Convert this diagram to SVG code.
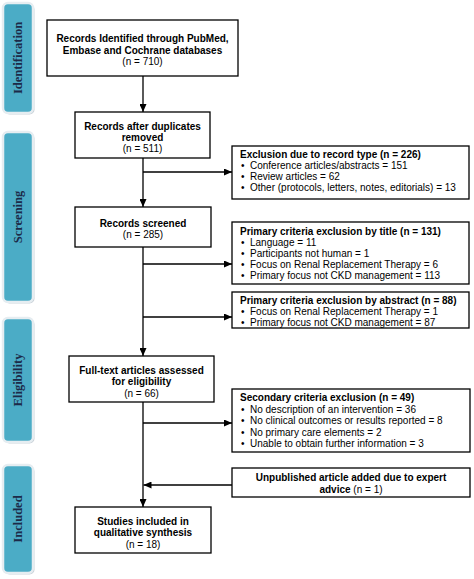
<svg xmlns="http://www.w3.org/2000/svg" width="474" height="579" viewBox="0 0 474 579">
<style>
.bg{fill:#ffffff}
.phase-sh{fill:#c9d1d8}
.phase{fill:#4bacc6;stroke:#e6edf1;stroke-width:2.5}
.ptxt{font-family:"Liberation Serif","Times New Roman",serif;font-weight:bold;font-size:12.5px;fill:#1c2a48;text-anchor:middle}
.box{fill:#ffffff;stroke:#000000;stroke-width:1.3}
.t{font-family:"Liberation Sans",Arial,sans-serif;font-size:10px;fill:#000000}
.b{font-weight:bold}
.c{text-anchor:middle}
.conn{stroke:#000000;stroke-width:1.3;fill:none}
</style>
<defs>
<marker id="ah" markerUnits="userSpaceOnUse" markerWidth="8" markerHeight="7" refX="8" refY="3.5" orient="auto">
<path d="M0,0 L8,3.5 L0,7 z" fill="#000000"/>
</marker>
</defs>
<rect class="bg" x="0" y="0" width="474" height="579"/>

<g id="phase-identification">
<rect class="phase-sh" x="4.5" y="4.5" width="30" height="110" rx="5"/>
<rect class="phase" x="3" y="3" width="30" height="110" rx="5"/>
<text class="ptxt" transform="translate(22,58) rotate(-90)">Identification</text>
</g>
<g id="phase-screening">
<rect class="phase-sh" x="4.5" y="133.5" width="30" height="170" rx="5"/>
<rect class="phase" x="3" y="132" width="30" height="170" rx="5"/>
<text class="ptxt" transform="translate(22,217) rotate(-90)">Screening</text>
</g>
<g id="phase-eligibility">
<rect class="phase-sh" x="4.5" y="319.5" width="30" height="124" rx="5"/>
<rect class="phase" x="3" y="318" width="30" height="124" rx="5"/>
<text class="ptxt" transform="translate(22,380) rotate(-90)">Eligibility</text>
</g>
<g id="phase-included">
<rect class="phase-sh" x="4.5" y="466.5" width="30" height="108" rx="5"/>
<rect class="phase" x="3" y="465" width="30" height="108" rx="5"/>
<text class="ptxt" transform="translate(22,519) rotate(-90)">Included</text>
</g>

<g id="connectors">
<line class="conn" x1="143" y1="76" x2="143" y2="112" marker-end="url(#ah)"/>
<line class="conn" x1="143" y1="158" x2="143" y2="207" marker-end="url(#ah)"/>
<line class="conn" x1="143" y1="247" x2="143" y2="356" marker-end="url(#ah)"/>
<line class="conn" x1="143" y1="402" x2="143" y2="507" marker-end="url(#ah)"/>
<line class="conn" x1="143" y1="172" x2="232" y2="172" marker-end="url(#ah)"/>
<line class="conn" x1="143" y1="264" x2="232" y2="264" marker-end="url(#ah)"/>
<line class="conn" x1="143" y1="317" x2="232" y2="317" marker-end="url(#ah)"/>
<line class="conn" x1="143" y1="423" x2="232" y2="423" marker-end="url(#ah)"/>
<line class="conn" x1="232" y1="485" x2="143.5" y2="485" marker-end="url(#ah)"/>
</g>

<g id="n-identified">
<rect class="box" x="47" y="20" width="191" height="56"/>
<text class="t b c" x="142.5" y="42">Records Identified through PubMed,</text>
<text class="t b c" x="142.5" y="53.5">Embase and Cochrane databases</text>
<text class="t c" x="142.5" y="65">(n = 710)</text>
</g>
<g id="n-duplicates">
<rect class="box" x="75" y="112" width="135" height="46"/>
<text class="t b c" x="142.5" y="130">Records after duplicates</text>
<text class="t b c" x="142.5" y="141">removed</text>
<text class="t c" x="142.5" y="152">(n = 511)</text>
</g>
<g id="n-recordtype">
<rect class="box" x="232" y="146" width="237" height="53"/>
<text class="t b" x="240" y="158">Exclusion due to record type (n = 226)</text>
<text class="t" x="241" y="169">•</text><text class="t" x="250" y="169">Conference articles/abstracts = 151</text>
<text class="t" x="241" y="180">•</text><text class="t" x="250" y="180">Review articles = 62</text>
<text class="t" x="241" y="191">•</text><text class="t" x="250" y="191">Other (protocols, letters, notes, editorials) = 13</text>
</g>
<g id="n-screened">
<rect class="box" x="75" y="207" width="136" height="40"/>
<text class="t b c" x="143" y="226.5">Records screened</text>
<text class="t c" x="143" y="237.5">(n = 285)</text>
</g>
<g id="n-title">
<rect class="box" x="232" y="222" width="237" height="62"/>
<text class="t b" x="240" y="234.5">Primary criteria exclusion by title (n = 131)</text>
<text class="t" x="241" y="245.5">•</text><text class="t" x="250" y="245.5">Language = 11</text>
<text class="t" x="241" y="256.5">•</text><text class="t" x="250" y="256.5">Participants not human = 1</text>
<text class="t" x="241" y="267.5">•</text><text class="t" x="250" y="267.5">Focus on Renal Replacement Therapy = 6</text>
<text class="t" x="241" y="278.5">•</text><text class="t" x="250" y="278.5">Primary focus not CKD management = 113</text>
</g>
<g id="n-abstract">
<rect class="box" x="232" y="292" width="237" height="36"/>
<text class="t b" x="240" y="303.5">Primary criteria exclusion by abstract (n = 88)</text>
<text class="t" x="241" y="314.5">•</text><text class="t" x="250" y="314.5">Focus on Renal Replacement Therapy = 1</text>
<text class="t" x="241" y="325.5">•</text><text class="t" x="250" y="325.5">Primary focus not CKD management = 87</text>
</g>
<g id="n-fulltext">
<rect class="box" x="69" y="356" width="145" height="46"/>
<text class="t b c" x="141.5" y="373.5">Full-text articles assessed</text>
<text class="t b c" x="141.5" y="385">for eligibility</text>
<text class="t c" x="141.5" y="396.5">(n = 66)</text>
</g>
<g id="n-secondary">
<rect class="box" x="232" y="389" width="238" height="63"/>
<text class="t b" x="240" y="401">Secondary criteria exclusion (n = 49)</text>
<text class="t" x="241" y="412.5">•</text><text class="t" x="250" y="412.5">No description of an intervention = 36</text>
<text class="t" x="241" y="424">•</text><text class="t" x="250" y="424">No clinical outcomes or results reported = 8</text>
<text class="t" x="241" y="435.5">•</text><text class="t" x="250" y="435.5">No primary care elements = 2</text>
<text class="t" x="241" y="447">•</text><text class="t" x="250" y="447">Unable to obtain further information = 3</text>
</g>
<g id="n-unpublished">
<rect class="box" x="232" y="468" width="238" height="29"/>
<text class="t b c" x="351" y="480.5">Unpublished article added due to expert</text>
<text class="t c" x="351" y="492.5"><tspan class="b">advice</tspan> (n = 1)</text>
</g>
<g id="n-included">
<rect class="box" x="75" y="507" width="136" height="46"/>
<text class="t b c" x="143" y="524.5">Studies included in</text>
<text class="t b c" x="143" y="536">qualitative synthesis</text>
<text class="t c" x="143" y="547.5">(n = 18)</text>
</g>
</svg>
